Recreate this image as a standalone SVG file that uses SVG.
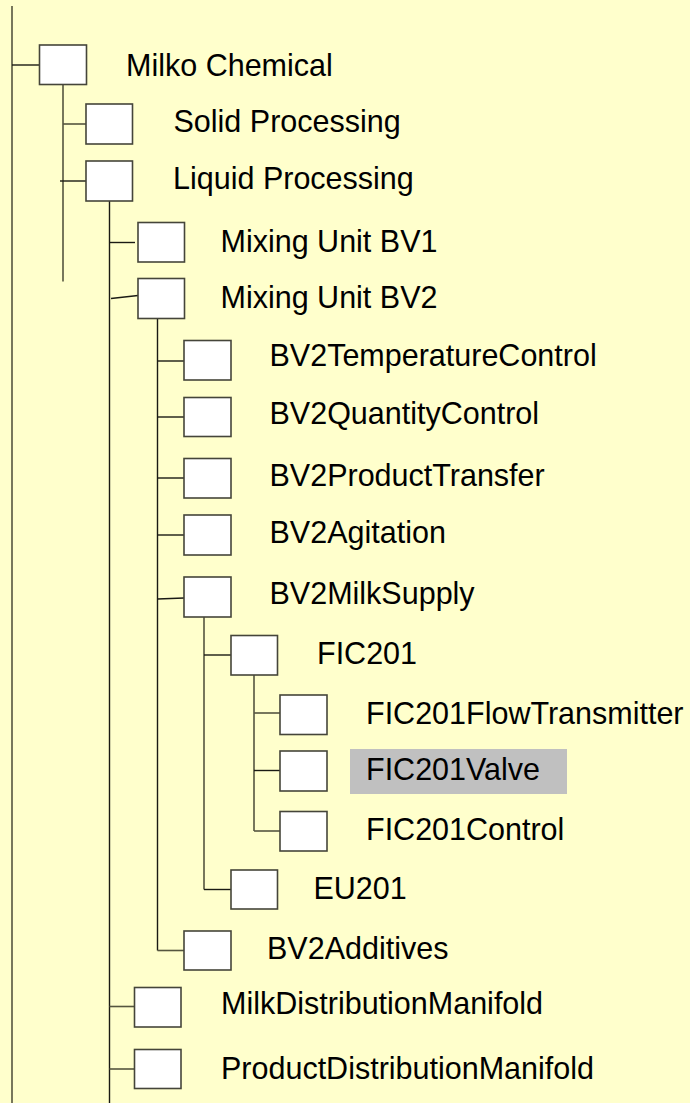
<svg xmlns="http://www.w3.org/2000/svg" width="690" height="1103" viewBox="0 0 690 1103">
<style>
.bg{fill:#ffffcc}
.box{fill:#ffffff;stroke:#45453a;stroke-width:1.6}
.ln{fill:none;stroke:#55553f;stroke-width:1.6}
.lk{fill:none;stroke:#1a1a14;stroke-width:1.4}
.t{font-family:"Liberation Sans",Arial,sans-serif;font-size:30.5px;fill:#000000}
.hl{fill:#c0c0c0}
</style>
<rect class="bg" x="0" y="0" width="690" height="1103"/>
<g id="connectors">
<line class="ln" x1="12" y1="6" x2="12" y2="1103"/>
<line class="lk" x1="12" y1="65" x2="40" y2="65"/>
<line class="ln" x1="63" y1="84.5" x2="63" y2="281.5"/>
<line class="ln" x1="63" y1="124" x2="86" y2="124"/>
<line class="lk" x1="60" y1="181" x2="86" y2="181"/>
<line class="lk" x1="109.5" y1="201" x2="109.5" y2="1103"/>
<line class="lk" x1="109" y1="242.5" x2="135" y2="242.5"/>
<line class="lk" x1="111" y1="298.5" x2="138" y2="295.5"/>
<line class="lk" x1="157.5" y1="318.5" x2="157.5" y2="950.5"/>
<line class="lk" x1="157.5" y1="361" x2="184" y2="361"/>
<line class="lk" x1="157.5" y1="417" x2="184" y2="417"/>
<line class="lk" x1="157.5" y1="478" x2="184" y2="478"/>
<line class="lk" x1="157.5" y1="535" x2="184" y2="535"/>
<line class="lk" x1="157.5" y1="599" x2="184" y2="598"/>
<line class="ln" x1="157.5" y1="950.5" x2="184" y2="950.5"/>
<line class="ln" x1="204" y1="617" x2="204" y2="889.5"/>
<line class="lk" x1="204" y1="655" x2="231" y2="655"/>
<line class="lk" x1="204" y1="889.5" x2="231" y2="889.5"/>
<line class="ln" x1="254" y1="675" x2="254" y2="831"/>
<line class="ln" x1="254" y1="713" x2="280" y2="713"/>
<line class="lk" x1="254" y1="770.5" x2="280" y2="770.5"/>
<line class="ln" x1="254" y1="831" x2="280" y2="831"/>
<line class="ln" x1="109.5" y1="1006.5" x2="135" y2="1006.5"/>
<line class="ln" x1="109.5" y1="1069" x2="135" y2="1069"/>
</g>
<g id="n-milko"><rect class="box" x="39.5" y="45" width="47" height="39.5"/><text class="t" x="126" y="75.5">Milko Chemical</text></g>
<g id="n-solid"><rect class="box" x="86" y="104" width="46.5" height="40"/><text class="t" x="173.5" y="132">Solid Processing</text></g>
<g id="n-liquid"><rect class="box" x="86" y="161" width="46.5" height="40"/><text class="t" x="173" y="188.5">Liquid Processing</text></g>
<g id="n-bv1"><rect class="box" x="138" y="222.5" width="46.5" height="39.5"/><text class="t" x="220.5" y="251.5">Mixing Unit BV1</text></g>
<g id="n-bv2"><rect class="box" x="138" y="278.5" width="46.5" height="40"/><text class="t" x="220.5" y="307.5">Mixing Unit BV2</text></g>
<g id="n-temp"><rect class="box" x="184" y="340.5" width="47" height="39.5"/><text class="t" x="269.5" y="366">BV2TemperatureControl</text></g>
<g id="n-qty"><rect class="box" x="184" y="397.5" width="47" height="39"/><text class="t" x="269.5" y="423.5">BV2QuantityControl</text></g>
<g id="n-transfer"><rect class="box" x="184" y="458.5" width="47" height="39.5"/><text class="t" x="269.5" y="486">BV2ProductTransfer</text></g>
<g id="n-agit"><rect class="box" x="184" y="515" width="47" height="40"/><text class="t" x="269.5" y="542.5">BV2Agitation</text></g>
<g id="n-milk"><rect class="box" x="184" y="577" width="47" height="40"/><text class="t" x="269.5" y="603.5">BV2MilkSupply</text></g>
<g id="n-fic"><rect class="box" x="231" y="635.5" width="46.5" height="39.5"/><text class="t" x="317" y="664">FIC201</text></g>
<g id="n-flow"><rect class="box" x="280" y="695" width="47" height="39.5"/><text class="t" x="366" y="723.5">FIC201FlowTransmitter</text></g>
<g id="n-valve"><rect class="hl" x="350" y="749" width="217" height="45"/><rect class="box" x="280" y="751" width="47" height="40"/><text class="t" x="366" y="780">FIC201Valve</text></g>
<g id="n-ctrl"><rect class="box" x="280" y="811.5" width="47" height="39.5"/><text class="t" x="366" y="840">FIC201Control</text></g>
<g id="n-eu"><rect class="box" x="231" y="870" width="46.5" height="39"/><text class="t" x="313.5" y="898.5">EU201</text></g>
<g id="n-add"><rect class="box" x="184" y="931" width="47" height="39"/><text class="t" x="267" y="958.5">BV2Additives</text></g>
<g id="n-mdm"><rect class="box" x="134.5" y="987.5" width="46.5" height="39.5"/><text class="t" x="221" y="1014">MilkDistributionManifold</text></g>
<g id="n-pdm"><rect class="box" x="134.5" y="1049.5" width="46.5" height="39"/><text class="t" x="221" y="1078.5">ProductDistributionManifold</text></g>
</svg>
